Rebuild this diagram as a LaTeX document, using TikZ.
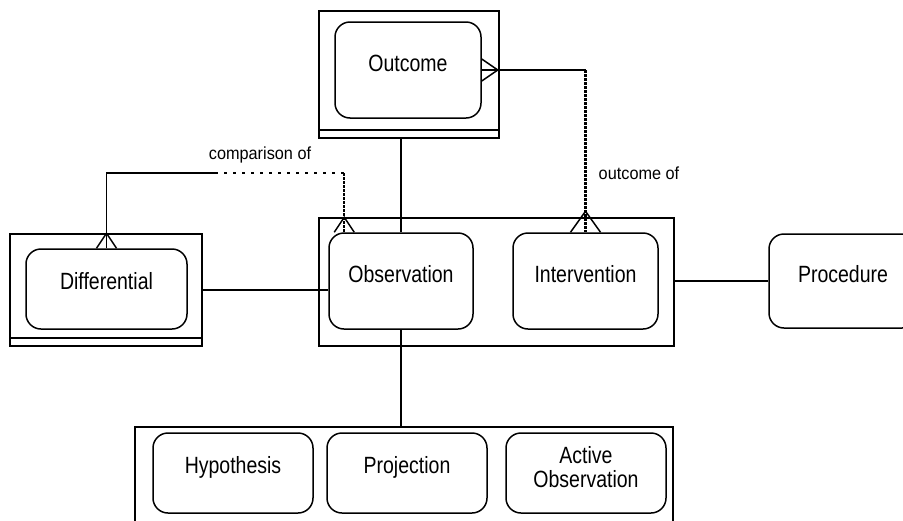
\documentclass[tikz,border=0pt]{standalone}
\usepackage{fontspec}
\setmainfont{Liberation Sans}
\newcommand{\ntxt}[1]{\scalebox{0.83}[1]{#1}}
\newcommand{\rtxt}[1]{\scalebox{0.93}[1]{#1}}
\begin{document}
\begin{tikzpicture}[x=1pt,y=-1pt,line width=1.5pt,
  grpbox/.style={draw,rectangle,inner sep=0pt,line width=1.6pt},
  entbox/.style={draw,rectangle,rounded corners=15pt,inner sep=0pt,line width=1.5pt},
  etext/.style={anchor=base,inner sep=0pt,font=\fontsize{23.5}{24}\selectfont},
  rtext/.style={anchor=base,inner sep=0pt,font=\fontsize{17.5}{18}\selectfont},
  hdots/.style={line width=2.4pt,dash pattern=on 2.5pt off 6.5pt},
  vdots/.style={line width=2.4pt,dash pattern=on 2.5pt off 1.5pt}]
\useasboundingbox (0,0) rectangle (903,520);
\clip (0,0) rectangle (903,520);
% group boxes
\node[grpbox,minimum width=180pt,minimum height=127pt] (outcomeG) at (409,74.5) {};
\node[grpbox,minimum width=355pt,minimum height=128pt] (obsG) at (496.5,282) {};
\node[grpbox,minimum width=192pt,minimum height=112pt] (diffG) at (106,290) {};
\node[grpbox,minimum width=538pt,minimum height=113pt] (botG) at (404,483.5) {};
\draw ([yshift=9pt]outcomeG.south west) -- ([yshift=9pt]outcomeG.south east);
\draw ([yshift=9pt]diffG.south west) -- ([yshift=9pt]diffG.south east);
% entity boxes
\node[entbox,minimum width=146pt,minimum height=96pt] (outcome) at (408,70) {};
\node[entbox,minimum width=144pt,minimum height=96pt] (obs) at (401,281) {};
\node[entbox,minimum width=145pt,minimum height=96pt] (interv) at (585.5,281) {};
\node[entbox,minimum width=161pt,minimum height=80pt] (diff) at (106.5,289) {};
\node[entbox,minimum width=148pt,minimum height=94pt] (proc) at (843,281) {};
\node[entbox,minimum width=160pt,minimum height=80pt] (hyp) at (233,473) {};
\node[entbox,minimum width=160pt,minimum height=80pt] (proj) at (407,473) {};
\node[entbox,minimum width=160pt,minimum height=80pt] (act) at (586,473) {};
% texts
\node[etext] (toutcome) at ([yshift=-1.5pt]outcome.center) {\ntxt{Outcome}};
\node[etext] (tobs) at ([yshift=-1.5pt]obs.center) {\ntxt{Observation}};
\node[etext] (tinterv) at ([yshift=-1.5pt]interv.center) {\ntxt{Intervention}};
\node[etext] (tdiff) at ([yshift=-0.5pt]diff.center) {\ntxt{Differential}};
\node[etext] (tproc) at ([yshift=-1pt]proc.center) {\ntxt{Procedure}};
\node[etext] (thyp) at ([yshift=-0.5pt]hyp.center) {\ntxt{Hypothesis}};
\node[etext] (tproj) at ([yshift=-0.5pt]proj.center) {\ntxt{Projection}};
\node[etext,align=center] (tact) at ([yshift=-14pt]act.center) {\ntxt{Active}\\\ntxt{Observation}};
% plain connectors
\draw (obs.north |- outcomeG.south) -- (obs.north);
\draw (diffG.east) -- (obs.west |- diffG.east);
\draw (proc.west -| obsG.east) -- (proc.west);
\draw (obs.south) -- (obs.south |- botG.north);
% outcome of
\coordinate (ocR) at (interv.north |- outcome.east);
\draw ([yshift=11pt]outcome.east) -- ([xshift=16pt]outcome.east) -- ([yshift=-11pt]outcome.east);
\draw (outcome.east) -- (ocR);
\draw[vdots] (ocR) -- (interv.north);
\draw ([xshift=-15pt]interv.north) -- ([yshift=21pt]interv.north) -- ([xshift=15pt]interv.north);
\node[rtext] (locof) at (639,179) {\rtxt{outcome of}};
% comparison of
\coordinate (cmpM) at (215,173);
\coordinate (obsTop) at ([xshift=16pt]obs.north west);
\coordinate (cmpR) at (obsTop |- cmpM);
\draw (diff.north) -- (diff.north |- cmpM) -- (cmpM);
\draw[hdots] (cmpM) -- (cmpR);
\draw[vdots] (cmpR) -- (obsTop);
\draw ([xshift=-10pt]diff.north) -- ([yshift=15pt]diff.north) -- ([xshift=10pt]diff.north);
\draw ([xshift=-10pt]obsTop) -- ([yshift=15pt]obsTop) -- ([xshift=10pt]obsTop);
\node[rtext] (lcmp) at (260,159) {\rtxt{comparison of}};
\end{tikzpicture}
\end{document}
